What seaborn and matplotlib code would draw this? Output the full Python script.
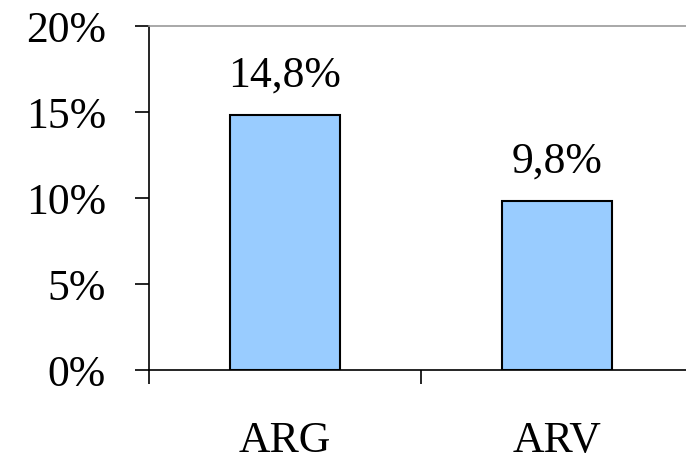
import matplotlib
matplotlib.use("Agg")
import matplotlib.pyplot as plt
import seaborn as sns
import pandas as pd

categories = ["ARG", "ARV"]
values = [14.8, 9.8]          # percent
bar_labels = ["14,8%", "9,8%"]
y_ticks = [0, 5, 10, 15, 20]
y_tick_labels = ["0%", "5%", "10%", "15%", "20%"]

sns.set_theme(style="white")
plt.rcParams["font.family"] = ["Liberation Serif", "DejaVu Serif"]
plt.rcParams["text.color"] = "black"
plt.rcParams["xtick.color"] = "black"
plt.rcParams["ytick.color"] = "black"
plt.rcParams["xtick.labelcolor"] = "black"
plt.rcParams["ytick.labelcolor"] = "black"

df = pd.DataFrame({"cat": categories, "val": values})

fig = plt.figure(figsize=(6.86, 4.61), dpi=100)
ax = fig.add_axes([149 / 686, 91 / 461, 544 / 686, 344 / 461])

sns.barplot(data=df, x="cat", y="val", color="#99CCFF", saturation=1,
            edgecolor="black", linewidth=1.5, width=0.405, ax=ax)

ax.set_xlim(-0.5, 1.5)
ax.set_ylim(0, 20)
ax.set_xlabel("")
ax.set_ylabel("")

# y axis
ax.set_yticks(y_ticks)
ax.set_yticklabels(y_tick_labels, fontsize=31.5, color="black")
ax.tick_params(axis="y", which="major", direction="out", length=10,
               width=1.2, color="black", pad=21, left=True)

# x axis: tick marks at category boundaries, labels at the centers
ax.set_xticks([-0.5, 0.5, 1.5])
ax.set_xticklabels(["", "", ""])
ax.tick_params(axis="x", which="major", direction="out", length=10,
               width=1.2, color="black", bottom=True)
ax.set_xticks([0, 1], minor=True)
ax.set_xticklabels(categories, minor=True, fontsize=31.5, color="black")
ax.tick_params(axis="x", which="minor", length=0, pad=37)

for side in ["left", "bottom"]:
    ax.spines[side].set_color("black")
    ax.spines[side].set_linewidth(1.2)
ax.spines["top"].set_color("#999999")
ax.spines["top"].set_linewidth(1.2)
ax.spines["right"].set_visible(False)

for container in ax.containers:
    ax.bar_label(container, labels=bar_labels, padding=14, fontsize=31.5,
                 color="black")

fig.savefig("out.png", dpi=100)
